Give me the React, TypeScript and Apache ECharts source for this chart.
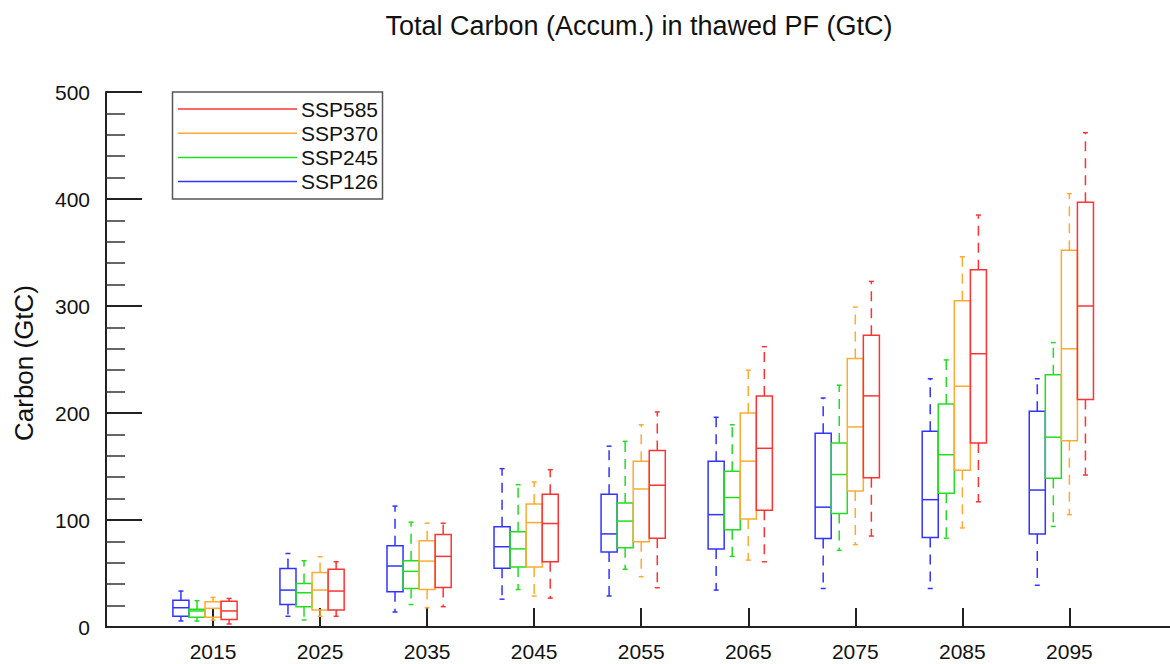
import React, { useEffect, useRef } from "react";
import * as echarts from "echarts";

const YEARS = [2015, 2025, 2035, 2045, 2055, 2065, 2075, 2085, 2095];
const TITLE = "Total Carbon (Accum.) in thawed PF (GtC)";
const Y_NAME = "Carbon (GtC)";

// [min, q1, median, q3, max] per year
const SSP126 = [
  [5.6, 10, 18, 25, 33.6],
  [10, 21, 34.5, 54.7, 68.7],
  [14, 33, 57, 76, 113],
  [26, 55, 75, 93.6, 148],
  [29, 70, 87, 124, 169],
  [34.5, 73, 105, 155, 196],
  [36, 82.6, 112, 181, 214],
  [36, 83.6, 119, 183, 232],
  [39, 87, 128, 201.7, 232],
];
const SSP245 = [
  [5.6, 9, 15, 16.5, 24.6],
  [6.5, 19, 32, 40.7, 61.9],
  [21, 36, 52, 62, 98],
  [35, 56, 73, 89, 133],
  [54, 74, 99, 116, 173.5],
  [66, 91, 121, 145.5, 189],
  [71.6, 106, 142.5, 172, 226],
  [83, 125, 161, 208.5, 249.6],
  [94, 139, 177.4, 235.7, 265.8],
];
const SSP370 = [
  [6.5, 9, 17.4, 23.6, 27.7],
  [10, 15.9, 34.5, 51, 65.6],
  [18, 35, 61.6, 80.5, 97],
  [29, 56, 97.6, 115, 135.5],
  [47, 79.6, 129, 155, 189],
  [62.5, 101, 155, 200, 240],
  [77, 127, 187, 251, 299],
  [92.6, 146.6, 225, 305, 346],
  [105, 174, 260, 352, 405],
];
const SSP585 = [
  [2.8, 7, 15, 24, 26.7],
  [10, 16, 33.6, 54, 61],
  [19, 37, 66, 86.5, 97],
  [27, 61, 96.7, 124, 147],
  [36.7, 83, 132.5, 165, 201],
  [61, 109, 167, 216, 262],
  [85, 139.5, 216, 272.6, 323],
  [117, 172, 255.4, 333.8, 385],
  [142, 212.7, 300, 397, 462],
];

const SCENARIOS = [
  { name: "SSP126", color: "#3333ff", offset: -3, data: SSP126 },
  { name: "SSP245", color: "#22dd22", offset: -1.5, data: SSP245 },
  { name: "SSP370", color: "#ffaa33", offset: 0, data: SSP370 },
  { name: "SSP585", color: "#ff3333", offset: 1.5, data: SSP585 },
];

const FONT = "'Liberation Sans', Arial, Helvetica, sans-serif";
const AXIS_COLOR = "#222";

function makeRender(color: string) {
  return (params: any, api: any) => {
    const x = api.value(0);
    const pMin = api.coord([x, api.value(1)]);
    const pQ1 = api.coord([x, api.value(2)]);
    const pMed = api.coord([x, api.value(3)]);
    const pQ3 = api.coord([x, api.value(4)]);
    const pMax = api.coord([x, api.value(5)]);
    const w = api.size([1.5, 0])[0];
    const cx = pMed[0];
    const cap = 2.5;
    const lw = 1.5;
    return {
      type: "group",
      children: [
        {
          type: "line",
          shape: { x1: cx, y1: pQ3[1], x2: cx, y2: pMax[1] },
          style: { stroke: color, lineWidth: lw, lineDash: [10, 7] },
        },
        {
          type: "line",
          shape: { x1: cx, y1: pQ1[1], x2: cx, y2: pMin[1] },
          style: { stroke: color, lineWidth: lw, lineDash: [10, 7] },
        },
        {
          type: "line",
          shape: { x1: cx - cap, y1: pMax[1], x2: cx + cap, y2: pMax[1] },
          style: { stroke: color, lineWidth: lw },
        },
        {
          type: "line",
          shape: { x1: cx - cap, y1: pMin[1], x2: cx + cap, y2: pMin[1] },
          style: { stroke: color, lineWidth: lw },
        },
        {
          type: "rect",
          shape: { x: cx - w / 2, y: pQ3[1], width: w, height: pQ1[1] - pQ3[1] },
          style: { fill: "none", stroke: color, lineWidth: lw },
        },
        {
          type: "line",
          shape: { x1: cx - w / 2, y1: pMed[1], x2: cx + w / 2, y2: pMed[1] },
          style: { stroke: color, lineWidth: lw },
        },
      ],
    };
  };
}

export default function App() {
  const ref = useRef<HTMLDivElement>(null);

  useEffect(() => {
    if (!ref.current) return;
    const chart = echarts.init(ref.current, null, { renderer: "svg" });

    const series = SCENARIOS.map((s) => ({
      type: "custom",
      name: s.name,
      renderItem: makeRender(s.color),
      encode: { x: 0, y: [1, 2, 3, 4, 5] },
      data: YEARS.map((y, i) => [y + s.offset, ...s.data[i]]),
      z: 3,
    }));

    const legendItems = [...SCENARIOS].reverse();
    const legendChildren: any[] = [
      {
        type: "rect",
        shape: { x: 172.5, y: 92, width: 210, height: 107 },
        style: { fill: "#fff", stroke: "#555", lineWidth: 1.5 },
      },
    ];
    legendItems.forEach((s, i) => {
      const y = 109 + i * 24.2;
      legendChildren.push({
        type: "line",
        shape: { x1: 178, y1: y, x2: 297, y2: y },
        style: { stroke: s.color, lineWidth: 1.5 },
      });
      legendChildren.push({
        type: "text",
        x: 378,
        y: y,
        style: {
          text: s.name,
          fill: "#111",
          font: `21px ${FONT}`,
          textAlign: "right",
          textVerticalAlign: "middle",
        },
      });
    });

    chart.setOption({
      animation: false,
      backgroundColor: "#fff",
      grid: { left: 106, right: 0, top: 92, bottom: 37 },
      xAxis: {
        type: "value",
        min: 2005,
        max: 2104.4,
        axisLine: { show: true, lineStyle: { color: AXIS_COLOR, width: 2 } },
        axisTick: {
          show: true,
          inside: true,
          length: 19,
          customValues: YEARS,
          lineStyle: { color: AXIS_COLOR, width: 2 },
        },
        axisLabel: {
          customValues: YEARS,
          fontSize: 21,
          color: "#111",
          fontFamily: FONT,
          margin: 14,
          formatter: (v: number) => String(v),
        },
        splitLine: { show: false },
      },
      yAxis: {
        type: "value",
        min: 0,
        max: 500,
        interval: 100,
        axisLine: { show: true, lineStyle: { color: AXIS_COLOR, width: 2 } },
        axisTick: {
          show: true,
          inside: true,
          length: 36,
          lineStyle: { color: AXIS_COLOR, width: 2 },
        },
        minorTick: {
          show: true,
          splitNumber: 5,
          length: 19,
          lineStyle: { color: "#333", width: 1.5 },
        },
        axisLabel: {
          fontSize: 21,
          color: "#111",
          fontFamily: FONT,
          margin: 16,
        },
        splitLine: { show: false },
        minorSplitLine: { show: false },
      },
      series,
      graphic: [
        {
          type: "text",
          x: 639,
          y: 26,
          style: {
            text: TITLE,
            fill: "#111",
            font: `27px ${FONT}`,
            textAlign: "center",
            textVerticalAlign: "middle",
          },
        },
        {
          type: "text",
          x: 24,
          y: 363,
          rotation: Math.PI / 2,
          style: {
            text: Y_NAME,
            fill: "#111",
            font: `26px ${FONT}`,
            textAlign: "center",
            textVerticalAlign: "middle",
          },
        },
        { type: "group", z: 100, children: legendChildren },
      ],
    });

    return () => chart.dispose();
  }, []);

  return (
    <div
      ref={ref}
      style={{ position: "absolute", left: 0, top: 0, width: 1170, height: 664 }}
    />
  );
}
